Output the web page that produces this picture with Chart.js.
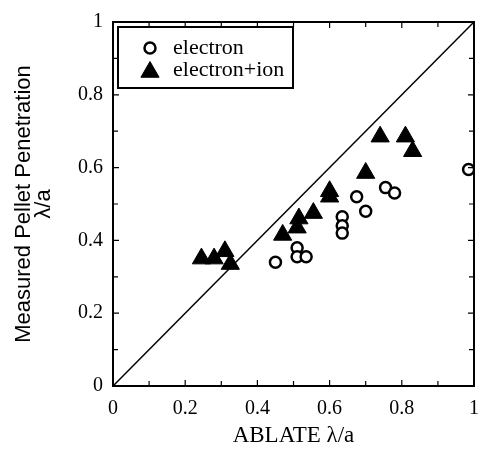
<!DOCTYPE html>
<html>
<head>
<meta charset="utf-8">
<script src="https://cdn.jsdelivr.net/npm/chart.js@4/dist/chart.umd.min.js"></script>
<style>
    body { margin: 0; background: #fff; }
    #wrap { width: 490px; height: 451px; }
</style>
</head>
<body>
<div id="wrap"><canvas id="penetrationChart" width="490" height="451"></canvas></div>
<script>
// values
const electronX = [0.45, 0.51, 0.51, 0.535, 0.635, 0.635, 0.635, 0.675, 0.70, 0.755, 0.78, 0.985];
const electronY = [0.34, 0.38, 0.355, 0.355, 0.465, 0.44, 0.42, 0.52, 0.48, 0.545, 0.53, 0.595];

const ionX = [0.245, 0.28, 0.31, 0.325, 0.47, 0.51, 0.515, 0.555, 0.60, 0.60, 0.70, 0.74, 0.81, 0.83];
const ionY = [0.35, 0.35, 0.37, 0.335, 0.415, 0.435, 0.46, 0.475, 0.52, 0.535, 0.585, 0.685, 0.685, 0.645];

const diagX = [0, 1];
const diagY = [0, 1];

const tickLabels = ['0', '0.2', '0.4', '0.6', '0.8', '1'];
const legendLabels = ['electron', 'electron+ion'];

const toPoints = (xs, ys) => xs.map((x, i) => ({x: x, y: ys[i]}));

const serif = '"Liberation Serif", "Times New Roman", serif';
const sans = '"Liberation Sans", Arial, sans-serif';

// frame + inward ticks on all four sides
const frameTicks = {
    id: 'frameTicks',
    afterDatasetsDraw(chart){
        const {ctx, chartArea: a, scales: {x, y}} = chart;
        ctx.save();
        ctx.strokeStyle = '#000';
        ctx.lineWidth = 1.2;
        ctx.beginPath();
        for(let i = 1; i < 10; i++){
            const v = i / 10;
            const len = i % 2 === 0 ? 6 : 5;
            const px = x.getPixelForValue(v);
            const py = y.getPixelForValue(v);
            ctx.moveTo(px, a.bottom); ctx.lineTo(px, a.bottom - len);
            ctx.moveTo(px, a.top);    ctx.lineTo(px, a.top + len);
            ctx.moveTo(a.left, py);   ctx.lineTo(a.left + len, py);
            ctx.moveTo(a.right, py);  ctx.lineTo(a.right - len, py);
        }
        ctx.stroke();
        ctx.lineWidth = 2;
        ctx.strokeRect(a.left, a.top, a.right - a.left, a.bottom - a.top);
        ctx.restore();
    }
};

// boxed legend inside the plot, top left
const boxLegend = {
    id: 'boxLegend',
    afterDraw(chart){
        const {ctx, chartArea: a} = chart;
        const left = a.left + 5, top = a.top + 5;
        ctx.save();
        ctx.fillStyle = '#fff';
        ctx.fillRect(left, top, 175, 61);
        ctx.strokeStyle = '#000';
        ctx.lineWidth = 2;
        ctx.strokeRect(left, top, 175, 61);
        ctx.font = '22px ' + serif;
        ctx.textBaseline = 'middle';
        ctx.fillStyle = '#000';
        legendLabels.forEach((label, i) => {
            const ds = chart.data.datasets[i];
            const cy = top + 21 + i * 22;
            ctx.fillStyle = ds.backgroundColor;
            ctx.strokeStyle = ds.borderColor;
            ctx.lineWidth = ds.borderWidth;
            Chart.helpers.drawPoint(ctx, {pointStyle: ds.pointStyle, radius: ds.pointRadius, borderWidth: ds.borderWidth}, left + 32, cy + (i === 1 ? 2 : 0));
            ctx.fillStyle = '#000';
            ctx.fillText(label, left + 55, cy);
        });
        ctx.restore();
    }
};

const tickFont = {family: serif, size: 20};

new Chart(document.getElementById('penetrationChart'), {
    type: 'scatter',
    data: {
        datasets: [{
            label: legendLabels[0],
            data: toPoints(electronX, electronY),
            pointStyle: 'circle',
            pointRadius: 5.5,
            borderWidth: 2.5,
            borderColor: '#000',
            backgroundColor: '#fff'
        }, {
            label: legendLabels[1],
            data: toPoints(ionX, ionY),
            pointStyle: 'triangle',
            pointRadius: 10.5,
            borderWidth: 1,
            borderColor: '#000',
            backgroundColor: '#000'
        }, {
            type: 'line',
            label: 'diagonal',
            data: toPoints(diagX, diagY),
            borderColor: '#000',
            borderWidth: 1.5,
            pointRadius: 0,
            fill: false
        }]
    },
    options: {
        responsive: false,
        animation: false,
        layout: {padding: {top: 17, right: 7, left: 0, bottom: 0}},
        plugins: {
            legend: {display: false},
            tooltip: {enabled: false}
        },
        scales: {
            x: {
                type: 'linear',
                min: 0,
                max: 1,
                afterFit: s => { s.height = 65; },
                grid: {display: false, drawTicks: false},
                border: {display: false},
                ticks: {
                    stepSize: 0.2,
                    padding: 11,
                    color: '#000',
                    font: tickFont,
                    callback: v => tickLabels[Math.round(v * 5)]
                },
                title: {
                    display: true,
                    text: 'ABLATE λ/a',
                    color: '#000',
                    font: {family: serif, size: 23},
                    padding: {top: 0, bottom: 1}
                }
            },
            y: {
                type: 'linear',
                min: 0,
                max: 1,
                afterFit: s => { s.width = 113; },
                grid: {display: false, drawTicks: false},
                border: {display: false},
                ticks: {
                    stepSize: 0.2,
                    padding: 10,
                    color: '#000',
                    font: tickFont,
                    callback: v => tickLabels[Math.round(v * 5)]
                },
                title: {
                    display: true,
                    text: ['Measured Pellet Penetration', 'λ/a'],
                    color: '#000',
                    font: {family: sans, size: 22, lineHeight: 0.9},
                    padding: {top: 14, bottom: 0}
                }
            }
        }
    },
    plugins: [frameTicks, boxLegend]
});
</script>
</body>
</html>
